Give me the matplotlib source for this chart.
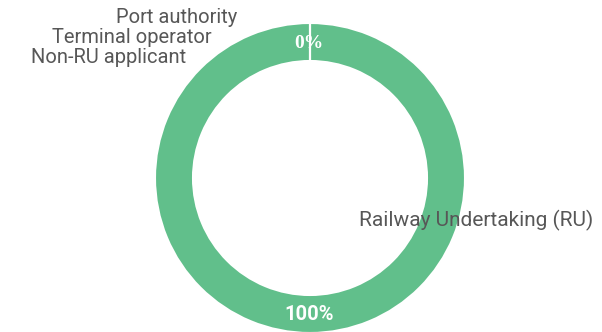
import matplotlib.pyplot as plt

# share of applicants by type
categories = ["Railway Undertaking (RU)", "Non-RU applicant", "Terminal operator", "Port authority"]
shares = [100, 0, 0, 0]

RING = "#61bf8b"
LABEL = "#575757"

plt.rcParams['font.family'] = ['Roboto', 'DejaVu Sans']

fig = plt.figure(figsize=(6.02, 3.32), dpi=100)
ax = fig.add_axes([0, 0, 1, 1])

cx, cy, r = 310, 154, 155
wedges, _ = ax.pie(shares, center=(cx, cy), radius=r, startangle=90, counterclock=False,
                   colors=[RING] * len(shares),
                   wedgeprops=dict(width=38, edgecolor="white", linewidth=1.5))
ax.set_xlim(0, 602)
ax.set_ylim(0, 332)
ax.set_aspect("equal")
ax.axis("off")

# slice labels
fs = 14.5
ax.text(593, 106, categories[0], ha="right", va="baseline", fontsize=15, color=LABEL)
ax.text(186, 269, categories[1], ha="right", va="baseline", fontsize=fs, color=LABEL)
ax.text(212, 289, categories[2], ha="right", va="baseline", fontsize=fs, color=LABEL)
ax.text(237, 309, categories[3], ha="right", va="baseline", fontsize=fs, color=LABEL)

# percentages inside the ring
ax.text(309, 18, f"{shares[0]}%", ha="center", va="center", fontsize=14.5,
        color="white", fontweight="bold")
ax.text(309, 289, f"{sum(shares[1:])}%", ha="center", va="center", fontsize=14,
        color="white", fontweight="bold", family=["Liberation Serif", "DejaVu Serif"])

fig.savefig("out.png", dpi=100)
